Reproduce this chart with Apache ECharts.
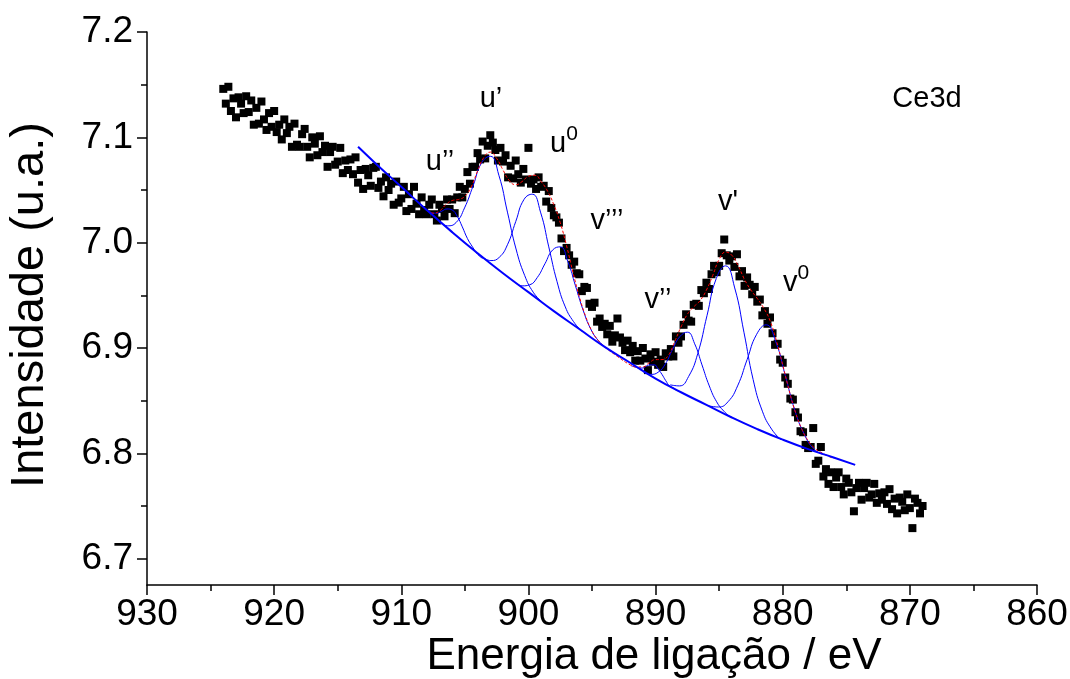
<!DOCTYPE html>
<html>
<head>
<meta charset="utf-8">
<script src="https://cdn.jsdelivr.net/npm/echarts@6/dist/echarts.min.js"></script>
<style>
html,body{margin:0;padding:0;background:#fff;}
#chart{width:1070px;height:679px;}
</style>
</head>
<body>
<div id="chart"></div>
<script>
// ---- data ----
const energyStart = 924.0;   // eV, first measured point
const energyStep = 0.2;      // eV, scan step
const intensity = [
 7.146,7.132,7.148,7.125,7.137,7.119,7.138,7.132,7.123,7.139,
 7.124,7.135,7.112,7.128,7.113,7.134,7.117,7.107,7.123,7.110,
 7.125,7.105,7.112,7.098,7.117,7.104,7.110,7.091,7.113,7.093,
 7.091,7.103,7.108,7.091,7.081,7.100,7.094,7.083,7.101,7.086,
 7.092,7.072,7.086,7.091,7.074,7.077,7.090,7.066,7.078,7.069,
 7.079,7.065,7.081,7.057,7.069,7.051,7.070,7.064,7.054,7.071,
 7.072,7.052,7.058,7.044,7.062,7.050,7.056,7.036,7.058,7.038,
 7.042,7.053,7.030,7.046,7.032,7.053,7.037,7.027,7.043,7.031,
 7.027,7.036,7.041,7.027,7.021,7.036,7.032,7.025,7.041,7.032,
 7.041,7.028,7.043,7.053,7.043,7.051,7.067,7.056,7.072,7.072,
 7.085,7.079,7.096,7.080,7.092,7.102,7.095,7.088,7.078,7.090,
 7.077,7.083,7.062,7.073,7.061,7.078,7.065,7.057,7.070,7.060,
 7.090,7.056,7.060,7.051,7.062,7.053,7.054,7.039,7.049,7.033,
 7.026,7.024,7.019,7.004,6.992,6.995,6.988,6.979,6.982,6.971,
 6.970,6.954,6.958,6.957,6.942,6.939,6.943,6.925,6.928,6.920,
 6.923,6.913,6.921,6.906,6.912,6.928,6.910,6.905,6.898,6.907,
 6.896,6.902,6.888,6.897,6.888,6.900,6.890,6.879,6.894,6.887,
 6.896,6.884,6.889,6.882,6.895,6.892,6.899,6.892,6.911,6.905,
 6.911,6.922,6.932,6.926,6.925,6.941,6.942,6.940,6.955,6.952,
 6.962,6.956,6.970,6.978,6.972,6.978,6.990,7.003,6.988,6.983,
 6.987,6.977,6.989,6.968,6.973,6.959,6.967,6.960,6.951,6.958,
 6.944,6.946,6.931,6.935,6.923,6.929,6.914,6.903,6.904,6.889,
 6.886,6.872,6.866,6.852,6.851,6.839,6.834,6.821,6.820,6.808,
 6.805,6.806,6.824,6.790,6.793,6.806,6.778,6.785,6.771,6.782,
 6.768,6.777,6.782,6.768,6.761,6.776,6.772,6.763,6.745,6.767,
 6.772,6.756,6.767,6.772,6.758,6.761,6.771,6.753,6.762,6.756,
 6.763,6.752,6.766,6.747,6.757,6.743,6.758,6.754,6.746,6.761,
 6.748,6.729,6.757,6.753,6.743,6.750
];

const baseline = [[913.4,7.091],[912,7.075],[910,7.053],[908,7.031],[906,7.010],[904,6.990],[902,6.971],[900,6.953],[898,6.935],[896,6.918],[894,6.901],[892,6.886],[890,6.871],[888,6.858],[886,6.846],[884,6.834],[882,6.823],[880,6.813],[878,6.804],[876,6.796],[874.3,6.789]];

const peakU2 = [[908.4,7.035],[908.0,7.031],[907.6,7.028],[907.2,7.028],[906.8,7.030],[906.4,7.032],[906.0,7.031],[905.6,7.025],[905.2,7.015],[904.8,7.004],[904.4,6.996],[904.0,6.989],[903.6,6.985]];
const peakU1 = [[907.05,7.020],[906.375,7.016],[905.7,7.019],[905.025,7.033],[904.35,7.054],[903.675,7.076],[903.0,7.082],[902.325,7.064],[901.65,7.029],[900.975,6.994],[900.3,6.969],[899.625,6.953],[898.95,6.944]];
const peakU0 = [[903.6,6.986],[902.95,6.983],[902.3,6.986],[901.65,6.998],[901.0,7.020],[900.35,7.041],[899.7,7.046],[899.05,7.029],[898.4,6.996],[897.75,6.963],[897.1,6.939],[896.45,6.925],[895.8,6.916]];
const peakV3 = [[901.1,6.963],[900.5,6.959],[899.9,6.960],[899.3,6.967],[898.7,6.980],[898.1,6.993],[897.5,6.996],[896.9,6.982],[896.3,6.959],[895.7,6.936],[895.1,6.918],[894.5,6.907],[893.9,6.900]];
const peakV = [[891.9,6.883],[891.6,6.882],[891.3,6.881],[891.0,6.881],[890.7,6.883],[890.4,6.884],[890.1,6.884],[889.8,6.880],[889.5,6.875],[889.2,6.869],[888.9,6.864],[888.6,6.862],[888.3,6.859]];
const peakV2 = [[890.95,6.877],[890.375,6.875],[889.8,6.877],[889.225,6.885],[888.65,6.899],[888.075,6.911],[887.5,6.915],[886.925,6.904],[886.35,6.884],[885.775,6.864],[885.2,6.849],[884.625,6.840],[884.05,6.834]];
const peakV1 = [[888.85,6.865],[888.125,6.864],[887.4,6.873],[886.675,6.895],[885.95,6.931],[885.225,6.966],[884.5,6.978],[883.775,6.957],[883.05,6.915],[882.325,6.870],[881.6,6.840],[880.875,6.823],[880.15,6.813]];
const peakV0 = [[885.8,6.845],[885.05,6.844],[884.3,6.849],[883.55,6.864],[882.8,6.889],[882.05,6.913],[881.3,6.922],[880.55,6.906],[879.8,6.874],[879.05,6.841],[878.3,6.818],[877.55,6.804],[876.8,6.799]];

const envelope = [[908,7.031],[907.5,7.028],[907,7.030],[906.5,7.036],[906,7.040],[905.5,7.041],[905,7.044],[904.5,7.053],[904,7.068],[903.5,7.081],[903,7.086],[902.5,7.080],[902,7.069],[901.5,7.059],[901,7.055],[900.5,7.058],[900,7.063],[899.5,7.064],[899,7.058],[898.5,7.049],[898,7.036],[897.5,7.019],[897,6.997],[896.5,6.972],[896,6.949],[895.5,6.930],[895,6.916],[894.5,6.907],[894,6.901],[893,6.892],[892,6.884],[891.5,6.882],[891,6.882],[890.5,6.886],[890,6.889],[889.5,6.889],[889,6.893],[888.5,6.906],[888,6.920],[887.5,6.932],[887,6.939],[886.5,6.945],[886,6.955],[885.5,6.969],[885,6.984],[884.5,6.991],[884,6.988],[883.5,6.978],[883,6.965],[882.5,6.955],[882,6.947],[881.5,6.938],[881,6.926],[880.5,6.907],[880,6.884],[879.5,6.860],[879,6.839],[878.5,6.823],[878,6.812],[877.5,6.805],[877,6.801],[876,6.795]];

const xTicks = [930,920,910,900,890,880,870,860];
const yTicks = [6.7,6.8,6.9,7.0,7.1,7.2];
const yMinorTicks = [6.75,6.85,6.95,7.05,7.15];
const xTitle = 'Energia de ligação / eV';
const yTitle = 'Intensidade (u.a.)';

// ---- chart ----
const points = intensity.map((v, i) => [+(energyStart - i * energyStep).toFixed(1), v]);
const FONT = '"Liberation Sans", Arial, sans-serif';
const chart = echarts.init(document.getElementById('chart'), null, {renderer: 'canvas'});

function comp(data) {
  return {type: 'line', data: data, smooth: 0.5, showSymbol: false, symbol: 'none', z: 4,
    lineStyle: {color: '#0000ff', width: 1}, silent: true};
}

const labelStyle = {fontFamily: FONT, fontSize: 29, fill: '#000'};
function txt(x, y, text, rich, extra) {
  const s = Object.assign({}, labelStyle, {x: 0, y: 0, text: text, textAlign: 'center', textVerticalAlign: 'middle'}, extra || {});
  if (rich) s.rich = rich;
  return {type: 'text', x: x, y: y, style: s, z: 10};
}
const supRich = {b: {fontFamily: FONT, fontSize: 29, fill: '#000', verticalAlign: 'bottom', lineHeight: 35},
                 s: {fontFamily: FONT, fontSize: 21, fill: '#000', verticalAlign: 'top', lineHeight: 35}};

const xTitleEl = txt(654, 657, xTitle, null, {fontSize: 44});
const yTitleEl = txt(30, 305, yTitle, null, {fontSize: 47});
yTitleEl.rotation = Math.PI / 2;

chart.setOption({
  animation: false,
  backgroundColor: '#fff',
  grid: {left: 147, right: 33, top: 32, bottom: 94, containLabel: false, outerBoundsMode: 'none'},
  xAxis: {
    type: 'value', min: 860, max: 930, interval: 10, inverse: true,
    axisLine: {show: true, onZero: false, lineStyle: {color: '#000', width: 1.5}},
    axisTick: {show: true, inside: false, length: 10, lineStyle: {color: '#000', width: 1.5}},
    minorTick: {show: true, splitNumber: 2, length: 6, lineStyle: {color: '#000', width: 1.5}},
    splitLine: {show: false},
    axisLabel: {color: '#000', fontFamily: FONT, fontSize: 37, margin: 11}
  },
  yAxis: [{
    type: 'value', min: 6.675, max: 7.2,
    axisLine: {show: true, onZero: false, lineStyle: {color: '#000', width: 1.5}},
    axisTick: {show: true, inside: false, length: 10, customValues: yTicks, lineStyle: {color: '#000', width: 1.5}},
    splitLine: {show: false},
    axisLabel: {color: '#000', fontFamily: FONT, fontSize: 37, margin: 14, customValues: yTicks,
      formatter: v => v.toFixed(1)}
  }, {
    type: 'value', min: 6.675, max: 7.2, position: 'left',
    axisLine: {show: false},
    axisTick: {show: true, inside: false, length: 6, customValues: yMinorTicks, lineStyle: {color: '#000', width: 1.5}},
    axisLabel: {show: false}, splitLine: {show: false}
  }],
  series: [
    {type: 'scatter', data: points, symbol: 'rect', symbolSize: 8, itemStyle: {color: '#000', opacity: 1}, z: 2, silent: true},
    comp(peakU2), comp(peakU1), comp(peakU0), comp(peakV3), comp(peakV), comp(peakV2), comp(peakV1), comp(peakV0),
    {type: 'line', data: envelope, smooth: 0.5, symbol: 'none', z: 5, silent: true,
      lineStyle: {color: '#ff0000', width: 1, type: [3, 2]}},
    {type: 'line', data: baseline, smooth: 0.5, symbol: 'none', z: 6, silent: true,
      lineStyle: {color: '#0000ff', width: 2}}
  ],
  graphic: [
    txt(440, 162, 'u’’'),
    txt(491, 99, 'u’'),
    txt(564, 141, '{b|u}{s|0}', supRich),
    txt(607, 221, 'v’’’'),
    txt(658, 300, 'v’’'),
    txt(728, 202, 'v\''),
    txt(796, 280, '{b|v}{s|0}', supRich),
    txt(927, 99, 'Ce3d'),
    xTitleEl,
    yTitleEl
  ]
});
</script>
</body>
</html>
